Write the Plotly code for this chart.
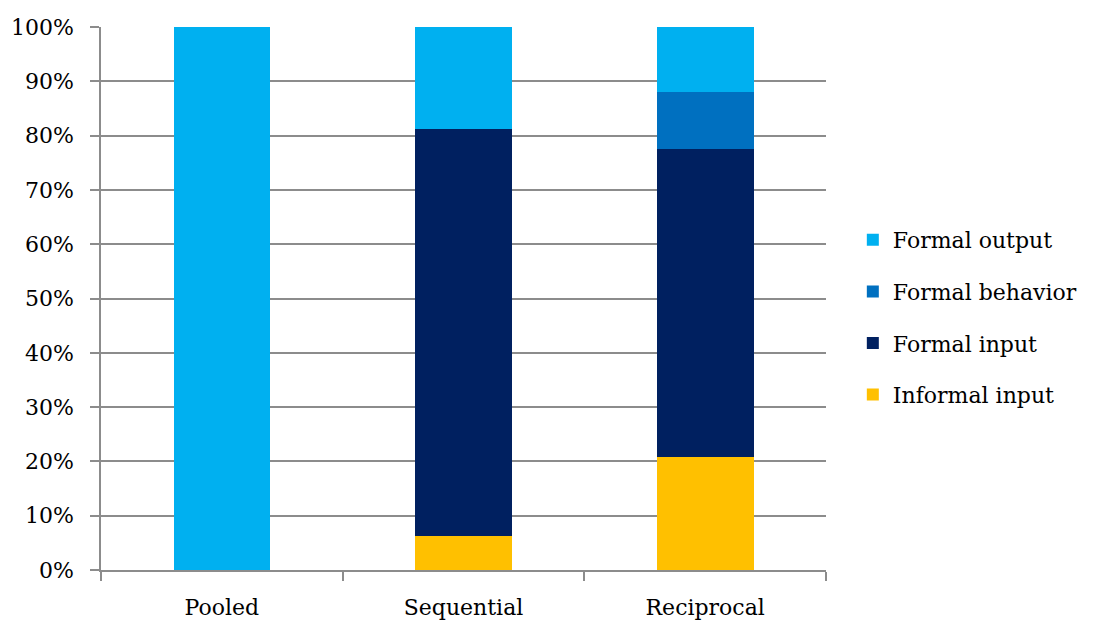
import plotly.graph_objects as go

categories = ["Pooled", "Sequential", "Reciprocal"]
informal_input = [0, 6.25, 20.8]
formal_input = [0, 75.0, 56.8]
formal_behavior = [0, 0, 10.4]
formal_output = [100, 18.75, 12.0]

# (name, values, colour, legend rank) — stacked bottom to top, listed top to bottom in legend
series = [
    ("Informal input", informal_input, "#FFC000", 4),
    ("Formal input", formal_input, "#002060", 3),
    ("Formal behavior", formal_behavior, "#0070C0", 2),
    ("Formal output", formal_output, "#00B0F0", 1),
]

font_family = "DejaVu Serif"
grid_color = "#8c8c8c"

fig = go.Figure()
for name, vals, color, rank in series:
    fig.add_trace(go.Bar(
        x=categories, y=vals, name=name, legendgroup=name, legendrank=rank,
        marker=dict(color=color, line=dict(width=0)),
    ))

fig.update_layout(
    barmode="stack",
    bargap=0.6,
    width=1093, height=621,
    margin=dict(l=101, r=267, t=27, b=51, autoexpand=False),
    paper_bgcolor="white", plot_bgcolor="white",
    font=dict(family=font_family, size=22, color="black"),
    legend=dict(
        traceorder="grouped", tracegroupgap=20,
        x=1.037, xanchor="left", y=0.465, yanchor="middle",
        font=dict(size=22), itemwidth=30,
    ),
    xaxis=dict(
        showline=True, linecolor=grid_color, linewidth=1.5,
        ticks="outside", tickson="boundaries", ticklen=9, tickcolor=grid_color, tickwidth=1.5,
        showgrid=False, ticklabelstandoff=17,
    ),
    yaxis=dict(
        range=[0, 100], tickvals=list(range(0, 101, 10)),
        ticktext=[f"{v}%" for v in range(0, 101, 10)],
        showline=True, linecolor=grid_color, linewidth=1.5,
        ticks="outside", ticklen=9, tickcolor=grid_color, tickwidth=1.5,
        showgrid=True, gridcolor=grid_color, gridwidth=1.5,
        zeroline=False, ticklabelstandoff=12,
    ),
)

fig.write_html("out.html")
